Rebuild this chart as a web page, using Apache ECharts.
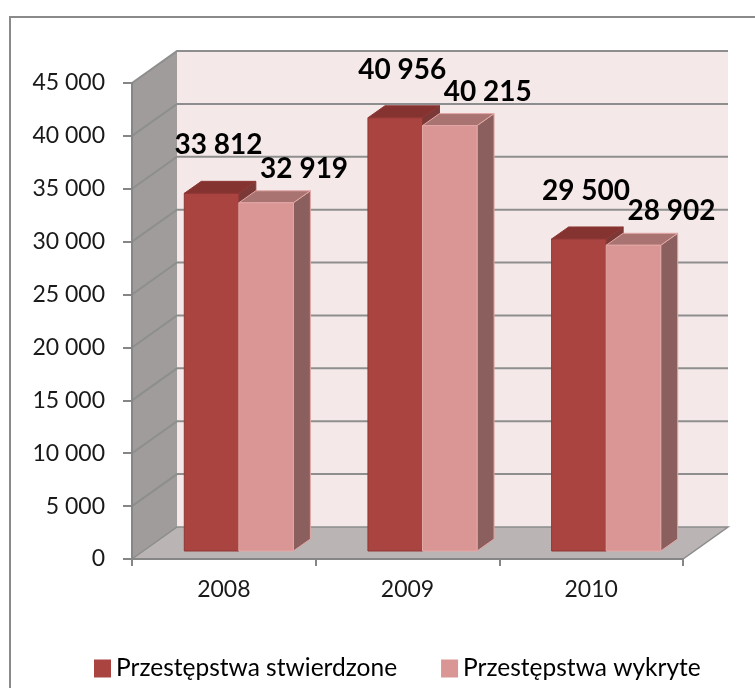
<!DOCTYPE html>
<html>
<head>
<meta charset="utf-8">
<script src="https://cdn.jsdelivr.net/npm/echarts@6/dist/echarts.min.js"></script>
<style>
  html, body { margin: 0; padding: 0; background: #ffffff; }
  #chart { width: 755px; height: 688px; }
</style>
</head>
<body>
<div id="chart"></div>
<script>
// Chart data
const years = ['2008', '2009', '2010'];
const stwierdzone = [33812, 40956, 29500];
const wykryte = [32919, 40215, 28902];
const seriesNames = ['Przestępstwa stwierdzone', 'Przestępstwa wykryte'];
const yMin = 0;
const yMax = 45000;
const yStep = 5000;

// 3D look: oblique projection offsets (pixels)
const WALL_DEPTH = [45, -32];   // floor / back wall depth
const BAR_FRONT = [15, -8];     // where the bars' front faces sit
const BAR_DEPTH = [17, -12];    // bar thickness
const BAR_WIDTH = 0.297;        // fraction of category band

const COLORS = {
  dark:  { front: '#A94441', top: '#843331', side: '#7A3836', edge: '#8E3735' },
  light: { front: '#D99694', top: '#A87371', side: '#8C5F5F', edge: '#E3A7A5' }
};

function fmt(v) {
  return String(v).replace(/\B(?=(\d{3})+(?!\d))/g, ' ');
}

// Back wall, side wall, floor and gridlines drawn in axis coordinates
function renderWalls(params, api) {
  const bw = api.size([1, 0])[0];
  const x0 = api.coord([0, yMin])[0] - bw / 2;
  const x1 = api.coord([years.length - 1, yMin])[0] + bw / 2;
  const y0 = api.coord([0, yMin])[1];
  const yT = api.coord([0, yMax])[1];
  const dx = WALL_DEPTH[0], dy = WALL_DEPTH[1];
  const children = [];
  children.push({
    type: 'polygon',
    shape: { points: [[x0 + dx, yT + dy], [x1 + dx, yT + dy], [x1 + dx, y0 + dy], [x0 + dx, y0 + dy]] },
    style: { fill: '#F4E8E8' }
  });
  children.push({
    type: 'polygon',
    shape: { points: [[x0, yT], [x0 + dx, yT + dy], [x0 + dx, y0 + dy], [x0, y0]] },
    style: { fill: '#A09C9C' }
  });
  children.push({
    type: 'polygon',
    shape: { points: [[x0, y0], [x0 + dx, y0 + dy], [x1 + dx, y0 + dy], [x1, y0]] },
    style: { fill: '#BAB4B4', stroke: '#8C8C8C', lineWidth: 1.5 }
  });
  for (let t = yMin + yStep; t <= yMax; t += yStep) {
    const y = api.coord([0, t])[1];
    children.push({
      type: 'polyline',
      shape: { points: [[x0, y], [x0 + dx, y + dy], [x1 + dx, y + dy]] },
      style: { stroke: '#8E8E8E', lineWidth: 2, fill: null }
    });
  }
  return { type: 'group', children: children };
}

// One 3D bar (front, top, side) with its value label
function barRenderer(isLeft, col, labelOffset) {
  return function (params, api) {
    const i = api.value(0);
    const v = api.value(1);
    const bw = api.size([1, 0])[0];
    const w = bw * BAR_WIDTH;
    const base = api.coord([i, yMin]);
    const top = api.coord([i, v]);
    const xl = base[0] + BAR_FRONT[0] - (isLeft ? w : 0);
    const xr = xl + w;
    const yb = base[1] + BAR_FRONT[1];
    const yt = top[1] + BAR_FRONT[1];
    const dx = BAR_DEPTH[0], dy = BAR_DEPTH[1];
    return {
      type: 'group',
      children: [
        {
          type: 'polygon',
          shape: { points: [[xr, yt], [xr + dx, yt + dy], [xr + dx, yb + dy], [xr, yb]] },
          style: { fill: col.side, stroke: col.edge, lineWidth: 1 }
        },
        {
          type: 'polygon',
          shape: { points: [[xl, yt], [xl + dx, yt + dy], [xr + dx, yt + dy], [xr, yt]] },
          style: { fill: col.top, stroke: col.edge, lineWidth: 1 }
        },
        {
          type: 'rect',
          shape: { x: xl, y: yt, width: w, height: yb - yt },
          style: { fill: col.front, stroke: col.edge, lineWidth: 1 }
        },
        {
          type: 'text',
          x: (xl + xr) / 2 + labelOffset[0],
          y: yt + labelOffset[1],
          z2: 100,
          style: {
            text: fmt(v),
            font: 'bold 28px Lato',
            fill: '#000000',
            align: 'center',
            verticalAlign: 'middle'
          }
        }
      ]
    };
  };
}

const chart = echarts.init(document.getElementById('chart'), null, { renderer: 'canvas' });

chart.setOption({
  animation: false,
  backgroundColor: '#ffffff',
  textStyle: { fontFamily: 'Lato' },
  graphic: [{
    type: 'rect',
    silent: true,
    shape: { x: 10, y: 17, width: 800, height: 800 },
    style: { fill: null, stroke: '#8A8A8A', lineWidth: 2 }
  }],
  grid: { left: 132, right: 72, top: 83, bottom: 129, containLabel: false },
  legend: {
    left: 89,
    top: 651,
    itemWidth: 17,
    itemHeight: 18,
    itemGap: 44,
    icon: 'rect',
    textStyle: { fontFamily: 'Lato', fontSize: 24.5, color: '#000000' },
    data: [
      { name: seriesNames[0], itemStyle: { color: COLORS.dark.front } },
      { name: seriesNames[1], itemStyle: { color: COLORS.light.front } }
    ]
  },
  xAxis: {
    type: 'category',
    data: years,
    axisLine: { show: true, lineStyle: { color: '#868686', width: 2 } },
    axisTick: { show: true, length: 7, alignWithLabel: false, lineStyle: { color: '#868686', width: 2 } },
    axisLabel: { margin: 19, fontFamily: 'Lato', fontSize: 23, color: '#1A1A1A' },
    splitLine: { show: false },
    z: 10
  },
  yAxis: {
    type: 'value',
    min: yMin,
    max: yMax,
    interval: yStep,
    axisLine: { show: true, lineStyle: { color: '#868686', width: 2 } },
    axisTick: { show: true, length: 9, lineStyle: { color: '#868686', width: 2 } },
    axisLabel: { margin: 27, fontFamily: 'Lato', fontSize: 23, color: '#1A1A1A', formatter: fmt },
    splitLine: { show: false },
    z: 10
  },
  series: [
    {
      type: 'custom',
      name: 'walls',
      silent: true,
      z: 1,
      renderItem: renderWalls,
      data: [[0, 0]]
    },
    {
      type: 'custom',
      name: seriesNames[0],
      z: 3,
      itemStyle: { color: COLORS.dark.front },
      renderItem: barRenderer(true, COLORS.dark, [7, -48]),
      data: stwierdzone.map((v, i) => [i, v])
    },
    {
      type: 'custom',
      name: seriesNames[1],
      z: 3,
      itemStyle: { color: COLORS.light.front },
      renderItem: barRenderer(false, COLORS.light, [38, -34]),
      data: wykryte.map((v, i) => [i, v])
    }
  ]
});
</script>
</body>
</html>
